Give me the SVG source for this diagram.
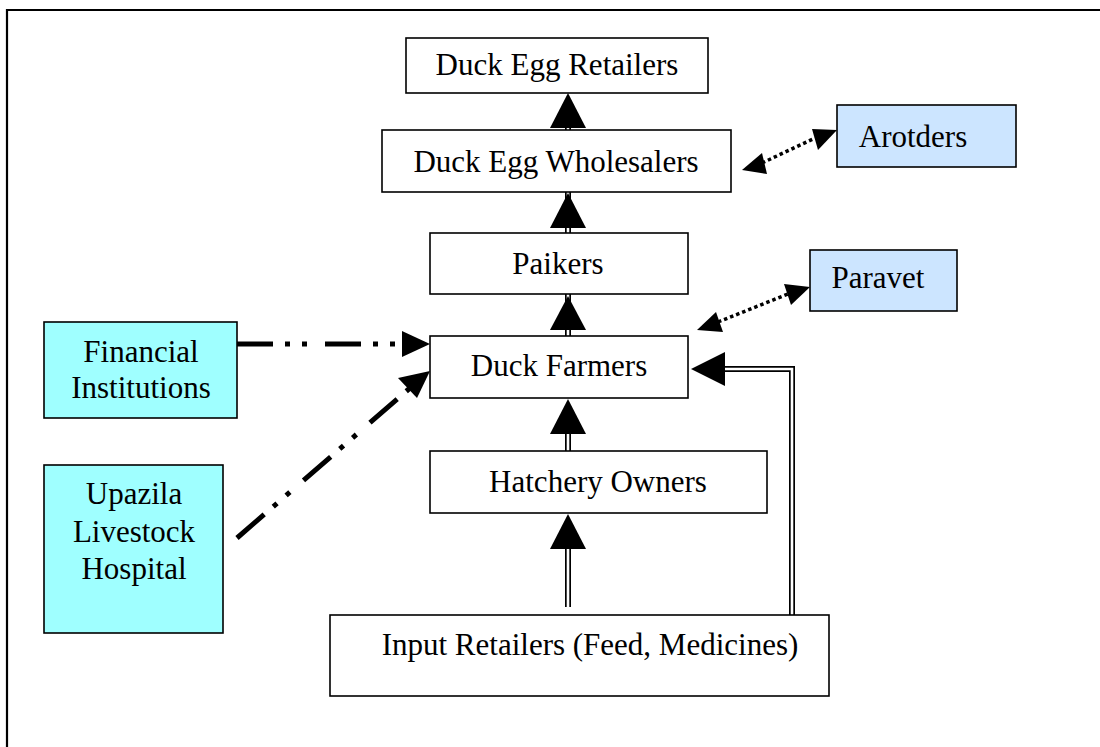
<svg xmlns="http://www.w3.org/2000/svg" width="1100" height="747" viewBox="0 0 1100 747">
<style>
.box{fill:#fff;stroke:#000;stroke-width:1.6}
.blue{fill:#cce5ff;stroke:#000;stroke-width:1.6}
.cyan{fill:#9fffff;stroke:#000;stroke-width:1.6}
text{font-family:"Liberation Serif","Times New Roman",serif;font-size:31px;fill:#000;text-anchor:middle}
.dblo{fill:none;stroke:#000;stroke-width:6}
.dbli{fill:none;stroke:#fff;stroke-width:2.6}
.dot{fill:none;stroke:#000;stroke-width:3.5;stroke-dasharray:3.5 3}
.dd{fill:none;stroke:#000;stroke-width:5;stroke-dasharray:36 12 5 12 5 18}
.head{fill:#000}
</style>
<rect x="0" y="0" width="1100" height="747" fill="#fff"/>
<path d="M7,747 V10 H1100" fill="none" stroke="#000" stroke-width="2.2"/>

<g id="connectors">
  <!-- double-line stubs -->
  <path class="dblo" d="M568,233 V125 M568,336 V224 M568,451 V430 M568,607 V545 M792,615 V369 H722"/>
  <path class="dbli" d="M568,234 V125 M568,337 V224 M568,452 V430 M568,608 V545 M792,616 V369 H722"/>
  <!-- solid arrowheads -->
  <polygon class="head" points="568,93 550,128 586,128"/>
  <polygon class="head" points="568,193 550,228 586,228"/>
  <polygon class="head" points="568,296 550,330 586,330"/>
  <polygon class="head" points="568,399 550,434 586,434"/>
  <polygon class="head" points="568,514 550,549 586,549"/>
  <polygon class="head" points="691,369 725,352 725,386"/>
  <!-- dotted double arrows -->
  <path class="dot" d="M762,163 L815,138"/>
  <polygon class="head" points="742,170 762,153 767,174"/>
  <polygon class="head" points="837,130 818,150 812,129"/>
  <path class="dot" d="M718,322 L788,294"/>
  <polygon class="head" points="697,330 716,312 723,332"/>
  <polygon class="head" points="810,287 791,305 784,284"/>
  <!-- dash-dot arrows -->
  <path class="dd" d="M237,344 H404"/>
  <polygon class="head" points="430,344 402,331 402,357"/>
  <path class="dd" d="M237,538 L410,388"/>
  <polygon class="head" points="430,371 398,378 417,398"/>
</g>

<g id="duck-egg-retailers"><rect class="box" x="406" y="38" width="302" height="55"/><text x="557" y="75">Duck Egg Retailers</text></g>
<g id="duck-egg-wholesalers"><rect class="box" x="382" y="130" width="349" height="62"/><text x="556" y="172">Duck Egg Wholesalers</text></g>
<g id="arotders"><rect class="blue" x="837" y="105" width="179" height="62"/><text x="913" y="147">Arotders</text></g>
<g id="paikers"><rect class="box" x="430" y="233" width="258" height="61"/><text x="558" y="274">Paikers</text></g>
<g id="paravet"><rect class="blue" x="810" y="250" width="147" height="61"/><text x="878" y="288">Paravet</text></g>
<g id="duck-farmers"><rect class="box" x="430" y="336" width="258" height="62"/><text x="559" y="376">Duck Farmers</text></g>
<g id="financial-institutions"><rect class="cyan" x="44" y="322" width="193" height="96"/><text x="141" y="362">Financial</text><text x="141" y="398">Institutions</text></g>
<g id="hatchery-owners"><rect class="box" x="430" y="451" width="337" height="62"/><text x="598" y="492">Hatchery Owners</text></g>
<g id="upazila-livestock-hospital"><rect class="cyan" x="44" y="465" width="179" height="168"/><text x="134" y="504">Upazila</text><text x="134" y="542">Livestock</text><text x="134" y="579">Hospital</text></g>
<g id="input-retailers"><rect class="box" x="330" y="615" width="499" height="81"/><text x="590" y="655">Input Retailers (Feed, Medicines)</text></g>
</svg>
